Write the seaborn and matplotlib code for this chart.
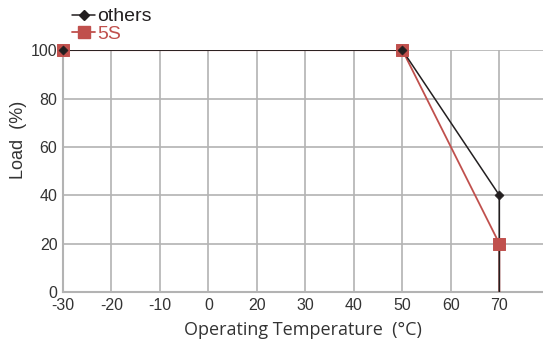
import matplotlib
matplotlib.use('Agg')
import matplotlib.pyplot as plt
import seaborn as sns
import pandas as pd
import numpy as np
from matplotlib.lines import Line2D

# derating curve data
temps = [-30, 50, 70, 70]
load_others = [100, 100, 40, 0]
load_5s = [100, 100, 20, 0]
# the original axis skips 10: ticks are evenly spaced with these labels
tick_vals = [-30, -20, -10, 0, 20, 30, 40, 50, 60, 70]
y_ticks = [0, 20, 40, 60, 80, 100]

black = '#231f20'
red = '#c0504d'
grey = '#b3b3b3'

sns.set_style('white')
plt.rcParams['font.family'] = ['Liberation Sans', 'DejaVu Sans']

tick_pos = np.arange(len(tick_vals))
df_o = pd.DataFrame({'t': np.interp(temps, tick_vals, tick_pos), 'load': load_others})
df_s = pd.DataFrame({'t': np.interp(temps, tick_vals, tick_pos), 'load': load_5s})

fig = plt.figure(figsize=(5.43, 3.46), dpi=100)
ax = fig.add_axes([0.116, 0.156, 0.884, 0.699])

sns.lineplot(data=df_s, x='t', y='load', color=red, lw=1.3, sort=False,
             estimator=None, ax=ax, zorder=3)
sns.lineplot(data=df_o, x='t', y='load', color=black, lw=1.1, sort=False,
             estimator=None, ax=ax, zorder=4)
sns.scatterplot(data=df_s.iloc[:3], x='t', y='load', marker='s', s=75,
                color=red, edgecolor=red, ax=ax, zorder=5, clip_on=False)
sns.scatterplot(data=df_o.iloc[:3], x='t', y='load', marker='D', s=22,
                color=black, edgecolor=black, ax=ax, zorder=6, clip_on=False)

ax.set_xlim(0, 9.9)
ax.set_ylim(0, 100)
ax.set_xticks(tick_pos)
ax.set_xticklabels([str(v) for v in tick_vals])
ax.set_yticks(y_ticks)
ax.grid(True, color=grey, lw=1.2)
ax.tick_params(length=0, labelsize=11.5, labelcolor='#333333', pad=4)
for s in ['top', 'right']:
    ax.spines[s].set_visible(False)
for s in ['left', 'bottom']:
    ax.spines[s].set_color(grey)
    ax.spines[s].set_linewidth(1.5)

ax.set_xlabel('Operating Temperature  (°C)', fontsize=13, color='#333333',
              family=['Open Sans', 'DejaVu Sans'], labelpad=6)
ax.set_ylabel('Load  (%)', fontsize=13, color='#333333')
ax.yaxis.set_label_coords(-0.074, 0.63)

handles = [Line2D([], [], color=black, marker='D', markersize=5, lw=1.1),
           Line2D([], [], color=red, marker='s', markersize=8, lw=1.3)]
leg = fig.legend(handles, ['others', '5S'], loc='upper left',
                 bbox_to_anchor=(0.118, 1.0), frameon=False, fontsize=14,
                 handlelength=1.2, handletextpad=0.1, labelspacing=0.0,
                 borderaxespad=0)
leg.get_texts()[0].set_color(black)
leg.get_texts()[1].set_color(red)

fig.savefig('out.png', dpi=100)
